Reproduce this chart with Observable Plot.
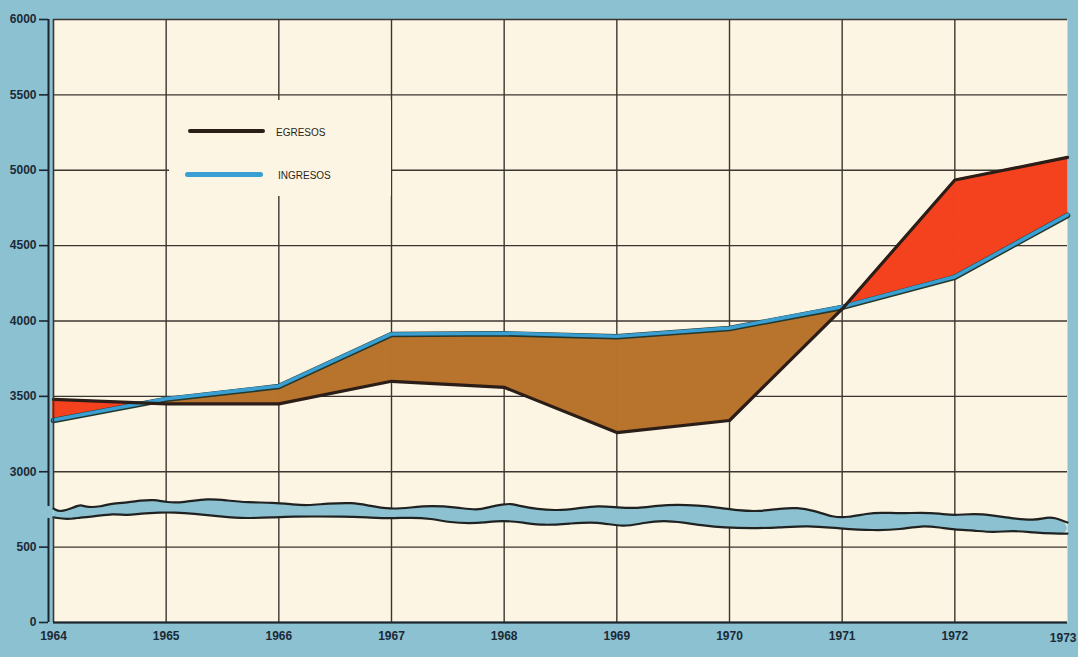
<!DOCTYPE html>
<html>
<head>
<meta charset="utf-8">
<script src="https://cdn.jsdelivr.net/npm/d3@7"></script>
<script src="https://cdn.jsdelivr.net/npm/@observablehq/plot@0.6"></script>
<style>
  html, body { margin: 0; padding: 0; background: #8bc1d0; }
  #wrap { position: relative; width: 1078px; height: 657px; }
  #legend { position: absolute; left: 169px; top: 100px; width: 222px; height: 96px; background: #fdf5e3; }
  .sw { position: absolute; height: 0; border-radius: 3px; }
  .lab { position: absolute; font: 10px "Liberation Sans", Arial, sans-serif; color: #2a2420; line-height: 10px; }
</style>
</head>
<body>
<div id="wrap">
  <div id="chart"></div>
  <div id="legend">
    <div class="sw" style="left:19px; top:29px; width:77px; border-top:4px solid #2b1d17;"></div>
    <div class="lab" style="left:107px; top:28px;">EGRESOS</div>
    <div class="sw" style="left:16px; top:72px; width:78px; border-top:5px solid #3a9fd2;"></div>
    <div class="lab" style="left:109px; top:71px;">INGRESOS</div>
  </div>
</div>
<script>
// ---- data ----
const years = [1964, 1965, 1966, 1967, 1968, 1969, 1970, 1971, 1972, 1973];
const egresos = [3480, 3450, 3450, 3600, 3560, 3260, 3340, 4080, 4935, 5085];
const ingresos = [3340, 3480, 3565, 3910, 3915, 3895, 3950, 4090, 4290, 4700];

// broken axis: tick positions (compressed scale) and their labels
const yTickValues = [0, 500, 1000, 1500, 2000, 2500, 3000, 3500, 4000];
const yTickLabels = ["0", "500", "3000", "3500", "4000", "4500", "5000", "5500", "6000"];

// wavy axis-break band (compressed scale units)
const breakTopYears = [1964.00,1964.06,1964.18,1964.24,1964.30,1964.42,1964.51,1964.66,1964.77,1964.89,1965.01,1965.15,1965.37,1965.54,1965.72,1965.95,1966.13,1966.25,1966.43,1966.66,1966.79,1966.99,1967.17,1967.35,1967.59,1967.76,1967.88,1967.99,1968.06,1968.12,1968.30,1968.47,1968.65,1968.83,1969.01,1969.18,1969.36,1969.54,1969.72,1969.89,1970.07,1970.27,1970.45,1970.60,1970.75,1970.92,1971.05,1971.22,1971.34,1971.52,1971.70,1971.87,1971.99,1972.17,1972.34,1972.52,1972.70,1972.82,1972.88,1973.00];
const breakTopValues = [756,730,763,783,763,769,789,796,809,816,796,796,823,809,796,796,783,776,789,796,776,750,763,776,763,743,769,783,789,776,750,743,756,776,763,756,776,783,776,763,743,736,756,763,743,697,697,723,730,723,730,723,710,723,710,690,677,697,697,663];
const breakBottomYears = [1964.00,1964.12,1964.24,1964.36,1964.53,1964.66,1964.77,1964.95,1965.07,1965.24,1965.48,1965.72,1965.95,1966.13,1966.31,1966.55,1966.79,1966.99,1967.17,1967.35,1967.52,1967.70,1967.82,1967.99,1968.17,1968.35,1968.59,1968.83,1969.06,1969.24,1969.42,1969.59,1969.77,1969.95,1970.19,1970.45,1970.69,1970.98,1971.28,1971.52,1971.70,1971.87,1971.99,1972.17,1972.34,1972.52,1972.70,1972.88,1973.00];
const breakBottomValues = [697,683,697,703,723,710,723,730,730,723,703,690,697,703,703,703,697,690,697,690,663,657,663,677,663,643,657,670,630,663,677,663,643,630,624,630,643,624,610,617,643,630,617,610,597,610,597,590,590];

// ---- helpers ----
const toScale = v => (v >= 3000 ? v - 2000 : v);
const rows = years.map((year, i) => ({year, egr: toScale(egresos[i]), ing: toScale(ingresos[i])}));

// split the region between the two lines into pieces by sign (crossings computed from the data)
const pieces = [];
let pid = 0;
for (let i = 0; i < rows.length - 1; i++) {
  const a = rows[i], b = rows[i + 1];
  const d0 = a.egr - a.ing, d1 = b.egr - b.ing;
  if (d0 * d1 < 0) {
    const t = d0 / (d0 - d1);
    const xc = a.year + t * (b.year - a.year);
    const yc = a.egr + t * (b.egr - a.egr);
    pid++;
    pieces.push({piece: pid, deficit: d0 > 0, year: a.year, ing: a.ing, egr: a.egr});
    pieces.push({piece: pid, deficit: d0 > 0, year: xc, ing: yc, egr: yc});
    pid++;
    pieces.push({piece: pid, deficit: d1 > 0, year: xc, ing: yc, egr: yc});
    pieces.push({piece: pid, deficit: d1 > 0, year: b.year, ing: b.ing, egr: b.egr});
  } else {
    pid++;
    const def = (d0 + d1) > 0;
    pieces.push({piece: pid, deficit: def, year: a.year, ing: a.ing, egr: a.egr});
    pieces.push({piece: pid, deficit: def, year: b.year, ing: b.ing, egr: b.egr});
  }
}

const bandTop = breakTopYears.map((x, i) => ({x, y: breakTopValues[i]}));
const bandBottom = breakBottomYears.map((x, i) => ({x, y: breakBottomValues[i]}));
const bandPoly = bandTop.concat(bandBottom.slice().reverse());

const BG = "#8bc1d0", CREAM = "#fdf5e3", GRID = "#3b3630", INK = "#1c2a38";
const RED = "#f4421e", BROWN = "#b8732c", BLUE = "#3a9fd2", BLACK = "#2b1d17";

const chart = Plot.plot({
  width: 1078,
  height: 657,
  marginLeft: 53,
  marginRight: 11,
  marginTop: 19,
  marginBottom: 35,
  style: {background: BG, fontFamily: "Liberation Sans, Arial, sans-serif", fontSize: "12px", color: INK},
  x: {type: "linear", domain: [1964, 1973]},
  y: {type: "linear", domain: [0, 4000]},
  marks: [
    Plot.frame({fill: CREAM, stroke: "none"}),
    // grid
    Plot.ruleX(years.slice(1, -1), {y1: 0, y2: 4000, stroke: GRID, strokeWidth: 1.4}),
    Plot.ruleY(yTickValues, {x1: 1964, x2: 1973, stroke: GRID, strokeWidth: 1.4}),
    // areas between the lines
    Plot.areaY(pieces.filter(d => d.deficit), {x: "year", y1: "ing", y2: "egr", z: "piece", fill: RED, stroke: RED, strokeWidth: 1}),
    Plot.areaY(pieces.filter(d => !d.deficit), {x: "year", y1: "ing", y2: "egr", z: "piece", fill: BROWN, stroke: BROWN, strokeWidth: 1}),
    // series lines
    Plot.line(rows, {x: "year", y: "ing", stroke: "#24382c", strokeWidth: 5.5, strokeLinejoin: "round"}),
    Plot.line(rows, {x: "year", y: "ing", stroke: BLUE, strokeWidth: 3.6, strokeLinejoin: "round", dy: -0.6}),
    Plot.line(rows, {x: "year", y: "egr", stroke: BLACK, strokeWidth: 3.2, strokeLinejoin: "round"}),
    // axis break band
    Plot.line(bandPoly, {x: "x", y: "y", fill: BG, stroke: "none", curve: "basis"}),
    Plot.line(bandTop, {x: "x", y: "y", stroke: "#1f2220", strokeWidth: 2.2, curve: "basis"}),
    Plot.line(bandBottom, {x: "x", y: "y", stroke: "#1f2220", strokeWidth: 2.2, curve: "basis"}),
    // left axis (broken) and frame edge
    Plot.ruleX([1964], {y1: 0, y2: 690, stroke: "#1a2530", strokeWidth: 2, dx: -5}),
    Plot.ruleX([1964], {y1: 770, y2: 4000, stroke: "#1a2530", strokeWidth: 2, dx: -5}),
    Plot.ruleX([1964], {y1: 0, y2: 697, stroke: GRID, strokeWidth: 1.6}),
    Plot.ruleX([1964], {y1: 756, y2: 4000, stroke: GRID, strokeWidth: 1.6}),
    Plot.ruleY([0], {x1: 1964, x2: 1973, stroke: "#1a2530", strokeWidth: 2}),
    Plot.axisY({ticks: yTickValues, tickFormat: (d, i) => yTickLabels[i], tickSize: 9, tickPadding: 3, dx: -5,
      stroke: "#1a2530", strokeWidth: 1.6, fill: INK, fontWeight: "bold", fontSize: 12, label: null}),
    Plot.axisX({ticks: years.slice(0, -1), tickFormat: d => String(d), tickSize: 0, tickPadding: 9,
      fill: INK, fontWeight: "bold", fontSize: 12, label: null}),
    Plot.axisX({ticks: years.slice(-1), tickFormat: d => String(d), tickSize: 0, tickPadding: 11,
      textAnchor: "end", dx: 9, fill: INK, fontWeight: "bold", fontSize: 12, label: null})
  ]
});
document.getElementById("chart").appendChild(chart);
</script>
</body>
</html>
